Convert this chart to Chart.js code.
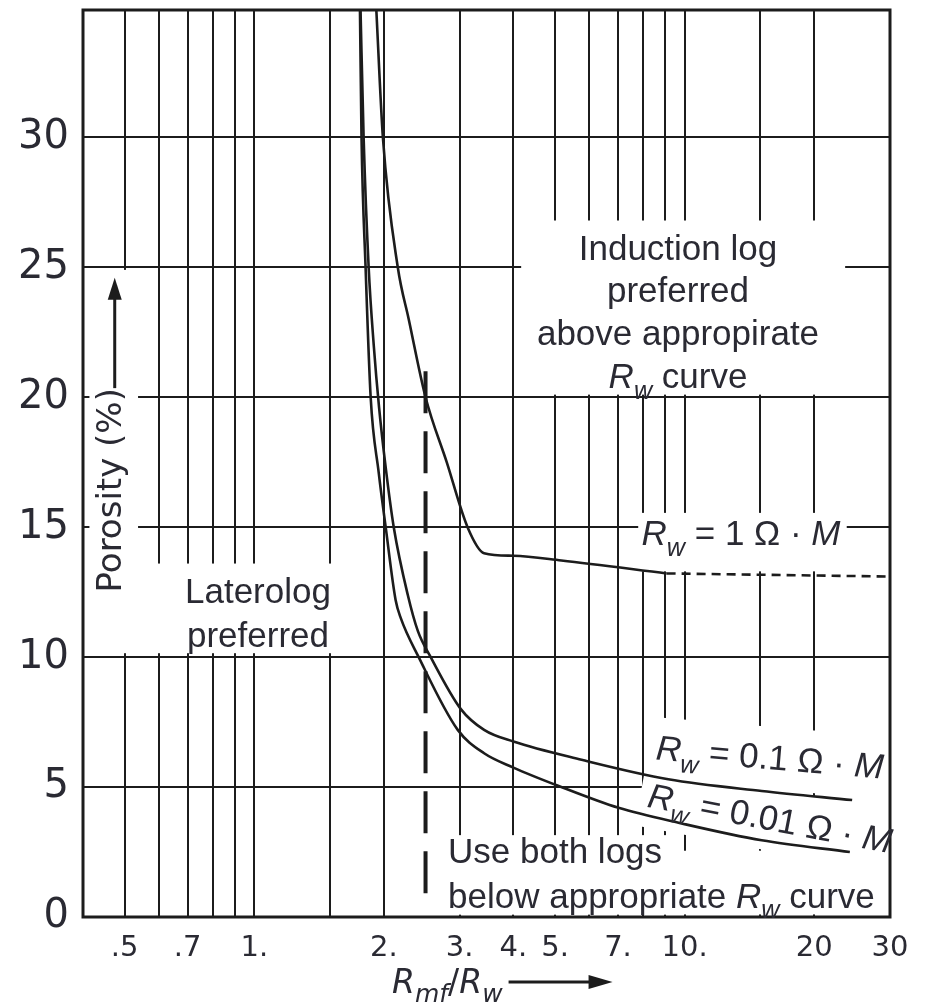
<!DOCTYPE html>
<html>
<head>
<meta charset="utf-8">
<script src="https://cdn.jsdelivr.net/npm/chart.js@4.4.1/dist/chart.umd.min.js"></script>
<style>
  html, body { margin: 0; padding: 0; background: #fff; }
</style>
</head>
<body>
<canvas id="chart" width="926" height="1006"></canvas>
<script>
// Rmf/Rw vs porosity - laterolog / induction log preference chart

const INK = '#1c1c1c';
const TEXT = '#2a2a33';
const SANS = '"Liberation Sans", Arial, Helvetica, sans-serif';
const WIDE = '"DejaVu Sans", Verdana, sans-serif';

// axis ticks
const xTickValues = [0.5, 0.6, 0.7, 0.8, 0.9, 1, 1.5, 2, 3, 4, 5, 6, 7, 8, 9, 10, 15, 20, 30];
const xTickText   = ['.5', '', '.7', '', '', '1.', '', '2.', '3.', '4.', '5.', '', '7.', '', '', '10.', '', '20', '30'];
const yTickValues = [0, 5, 10, 15, 20, 25, 30];

// Rw = 0.01 ohm-m curve
const rw001X = [1.76, 1.775, 1.814, 1.864, 1.946, 2.02, 2.13, 2.19, 2.41, 2.97, 3.42, 4.0, 5.08, 7.02, 9.84, 15.1, 24.2];
const rw001Y = [35, 30, 25, 20, 17.1, 15, 12.2, 11.5, 10, 7.2, 6.3, 5.75, 5.05, 4.2, 3.6, 2.95, 2.5];

// Rw = 0.1 ohm-m curve
const rw01X = [1.765, 1.795, 1.844, 1.895, 1.95, 2.02, 2.109, 2.273, 2.40, 2.57, 3.02, 3.42, 4.0, 5.76, 9.16, 15.1, 24.5];
const rw01Y = [35, 30, 25, 22, 19.6, 17.3, 15, 12.4, 11.0, 10, 8.0, 7.2, 6.75, 6.05, 5.3, 4.85, 4.5];

// Rw = 1 ohm-m curve (solid part, then dashed extension)
const rw1X = [1.92, 1.99, 2.155, 2.285, 2.5, 2.8, 3.13, 3.42, 4.0, 5.17, 9.08];
const rw1Y = [35, 30, 25, 23, 20, 17.5, 15, 14.0, 13.9, 13.72, 13.22];
const rw1DashX = [9.08, 30];
const rw1DashY = [13.22, 13.1];

// vertical dashed divider
const splitX = [2.5, 2.5];
const splitY = [21, 0.4];

const pts = (xs, ys) => xs.map((x, i) => ({ x: x, y: ys[i] }));

// white areas where the grid is cut out behind the notes (data units)
const masks = [
  [0.414, 0.537, 10.15, 24.9],
  [0.545, 1.88, 10.15, 13.6],
  [4.17, 23.6, 20.1, 26.8],
  [7.8, 23.8, 13.3, 15.55],
  [2.72, 9.1, 0.1, 3.15],
  [2.72, 29.4, 0.1, 2.55]
];

// runs: [text, style] where style i = italic, s = subscript
const notes = [
  { runs: [['Induction log', '']], x: 9.65, y: 25.27, align: 'center' },
  { runs: [['preferred', '']], x: 9.65, y: 23.65, align: 'center' },
  { runs: [['above appropirate', '']], x: 9.65, y: 22.0, align: 'center' },
  { runs: [['R', 'i'], ['w', 'is'], [' curve', '']], x: 9.65, y: 20.35, align: 'center' },
  { runs: [['Laterolog', '']], x: 1.02, y: 12.08, align: 'center' },
  { runs: [['preferred', '']], x: 1.02, y: 10.38, align: 'center' },
  { runs: [['Use both logs', '']], x: 2.82, y: 2.08, align: 'left' },
  { runs: [['below appropriate ', ''], ['R', 'i'], ['w', 'is'], [' curve', '']], x: 2.82, y: 0.35, align: 'left' },
  { runs: [['R', 'i'], ['w', 'is'], [' = 1 \u03A9 \u00B7 ', ''], ['M', 'i']], x: 7.94, y: 14.3, align: 'left' },
  { runs: [['R', 'i'], ['w', 'is'], [' = 0.1 \u03A9 \u00B7 ', ''], ['M', 'i']], x: 15.7, y: 5.69, align: 'center', angle: 4.8, mask: true },
  { runs: [['R', 'i'], ['w', 'is'], [' = 0.01 \u03A9 \u00B7 ', ''], ['M', 'i']], x: 15.6, y: 3.35, align: 'center', angle: 10.8, mask: true }
];

const NOTE_SIZE = 35;

function runFont(style, size) {
  const s = style.includes('s') ? size * 0.72 : size;
  return (style.includes('i') ? 'italic ' : '') + s + 'px ' + SANS;
}

function measureRuns(ctx, runs, size) {
  let w = 0;
  runs.forEach(r => { ctx.font = runFont(r[1], size); w += ctx.measureText(r[0]).width; });
  return w;
}

function drawRuns(ctx, runs, size, x, y, align) {
  const w = measureRuns(ctx, runs, size);
  let cx = align === 'center' ? x - w / 2 : x;
  runs.forEach(r => {
    ctx.font = runFont(r[1], size);
    ctx.fillText(r[0], cx, y + (r[1].includes('s') ? size * 0.3 : 0));
    cx += ctx.measureText(r[0]).width;
  });
}

const notesPlugin = {
  id: 'notes',
  beforeDatasetsDraw(chart) {
    const { ctx, scales: { x, y } } = chart;
    ctx.save();
    ctx.fillStyle = '#fff';
    masks.forEach(m => {
      const x0 = x.getPixelForValue(m[0]), x1 = x.getPixelForValue(m[1]);
      const y0 = y.getPixelForValue(m[3]), y1 = y.getPixelForValue(m[2]);
      ctx.fillRect(x0, y0, x1 - x0, y1 - y0);
    });
    notes.filter(n => n.mask).forEach(n => {
      const w = measureRuns(ctx, n.runs, NOTE_SIZE);
      ctx.save();
      ctx.translate(x.getPixelForValue(n.x), y.getPixelForValue(n.y));
      ctx.rotate(n.angle * Math.PI / 180);
      ctx.fillRect(-w / 2 - 8, -NOTE_SIZE * 0.75 - 16, w + 16, NOTE_SIZE * 1.1 + 24);
      ctx.restore();
    });
    ctx.restore();
  },
  afterDatasetsDraw(chart) {
    const { ctx, chartArea: a, scales: { x, y } } = chart;
    ctx.save();
    // frame
    ctx.strokeStyle = INK;
    ctx.lineWidth = 3;
    ctx.strokeRect(a.left, a.top, a.right - a.left, a.bottom - a.top);

    // notes
    ctx.fillStyle = TEXT;
    ctx.textBaseline = 'alphabetic';
    ctx.textAlign = 'left';
    notes.forEach(n => {
      const px = x.getPixelForValue(n.x), py = y.getPixelForValue(n.y);
      if (n.angle) {
        ctx.save();
        ctx.translate(px, py);
        ctx.rotate(n.angle * Math.PI / 180);
        drawRuns(ctx, n.runs, NOTE_SIZE, 0, 0, n.align);
        ctx.restore();
      } else {
        drawRuns(ctx, n.runs, NOTE_SIZE, px, py, n.align);
      }
    });

    // y title with arrow
    const ax = x.getPixelForValue(0.474);
    ctx.save();
    ctx.translate(x.getPixelForValue(0.467), y.getPixelForValue(16.42));
    ctx.rotate(-Math.PI / 2);
    ctx.textAlign = 'center';
    ctx.textBaseline = 'middle';
    ctx.font = '34px ' + WIDE;
    ctx.fillText('Porosity (%)', 0, 0);
    ctx.restore();
    const tip = y.getPixelForValue(24.6);
    ctx.strokeStyle = INK;
    ctx.fillStyle = INK;
    ctx.lineWidth = 3;
    ctx.beginPath();
    ctx.moveTo(ax, y.getPixelForValue(20.35));
    ctx.lineTo(ax, tip + 14);
    ctx.stroke();
    ctx.beginPath();
    ctx.moveTo(ax, tip);
    ctx.lineTo(ax - 7, tip + 22);
    ctx.lineTo(ax + 7, tip + 22);
    ctx.closePath();
    ctx.fill();

    // x title with arrow
    ctx.fillStyle = TEXT;
    const base = a.bottom + 76;
    const tRuns = [['R', 'i'], ['mf', 'is'], ['/', ''], ['R', 'i'], ['w', 'is']];
    let cx = 392;
    tRuns.forEach(r => {
      const sub = r[1].includes('s');
      ctx.font = (r[1].includes('i') ? 'italic ' : '') + (sub ? 25 : 33) + 'px ' + WIDE;
      ctx.fillText(r[0], cx, base + (sub ? 9 : 0));
      cx += ctx.measureText(r[0]).width;
    });
    const ay = a.bottom + 65;
    ctx.fillStyle = INK;
    ctx.beginPath();
    ctx.moveTo(cx + 6, ay);
    ctx.lineTo(cx + 90, ay);
    ctx.stroke();
    ctx.beginPath();
    ctx.moveTo(cx + 110, ay);
    ctx.lineTo(cx + 86, ay - 7);
    ctx.lineTo(cx + 86, ay + 7);
    ctx.closePath();
    ctx.fill();
    ctx.restore();
  }
};

const curve = (xs, ys) => ({
  data: pts(xs, ys),
  borderColor: INK,
  borderWidth: 2.6,
  cubicInterpolationMode: 'monotone',
  pointRadius: 0,
  fill: false
});

new Chart(document.getElementById('chart'), {
  type: 'line',
  data: {
    datasets: [
      curve(rw001X, rw001Y),
      curve(rw01X, rw01Y),
      curve(rw1X, rw1Y),
      { data: pts(rw1DashX, rw1DashY), borderColor: INK, borderWidth: 2.6, borderDash: [9, 6], pointRadius: 0, tension: 0 },
      { data: pts(splitX, splitY), borderColor: INK, borderWidth: 4, borderDash: [42, 18], pointRadius: 0, tension: 0 }
    ]
  },
  options: {
    responsive: false,
    animation: false,
    devicePixelRatio: 1,
    layout: { padding: { top: 10, right: 36, left: 0, bottom: 0 } },
    plugins: { legend: { display: false }, tooltip: { enabled: false } },
    scales: {
      x: {
        type: 'logarithmic',
        min: 0.4,
        max: 30,
        afterBuildTicks: s => { s.ticks = xTickValues.map(v => ({ value: v })); },
        afterFit: s => { s.height = 89; s.paddingLeft = 0; s.paddingRight = 0; },
        border: { display: false },
        grid: { color: INK, lineWidth: 2, drawTicks: false },
        ticks: {
          autoSkip: false,
          maxRotation: 0,
          padding: 14,
          color: TEXT,
          font: { family: WIDE, size: 29 },
          callback: v => {
            const i = xTickValues.indexOf(v);
            return i >= 0 ? xTickText[i] : '';
          }
        }
      },
      y: {
        min: 0,
        max: 34.9,
        afterBuildTicks: s => { s.ticks = yTickValues.map(v => ({ value: v })); },
        afterFit: s => { s.width = 83; s.paddingTop = 0; s.paddingBottom = 0; },
        border: { display: false },
        grid: { color: INK, lineWidth: 2, drawTicks: false },
        ticks: {
          padding: 14,
          color: TEXT,
          font: { family: WIDE, size: 40 }
        }
      }
    }
  },
  plugins: [notesPlugin]
});
</script>
</body>
</html>
